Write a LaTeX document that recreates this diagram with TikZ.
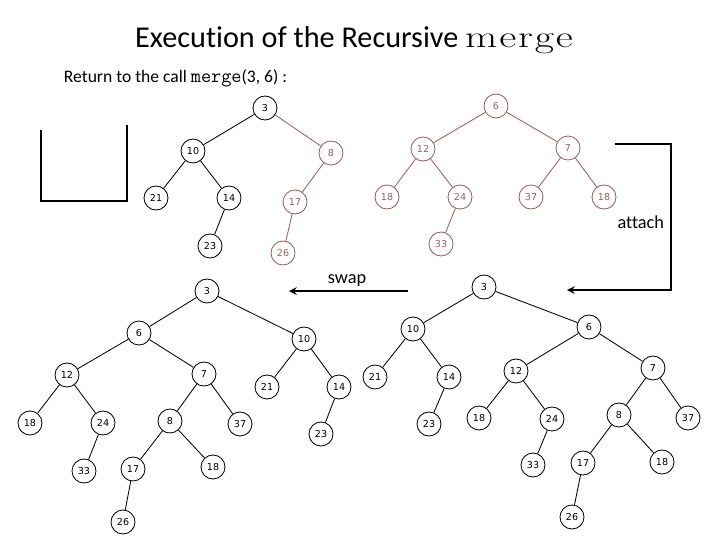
\documentclass[tikz,border=0pt]{standalone}
\usepackage{fontspec}
\newfontfamily\carl[Ligatures=NoCommon]{Carlito}
\newfontfamily\keyfont{DejaVu Sans}
\newfontfamily\widerm[FakeStretch=1.35, LetterSpace=6]{Latin Modern Roman}
\definecolor{redc}{RGB}{150,95,95}
\tikzset{
  nd/.style={draw, circle, minimum size=0.6cm, inner sep=0pt, line width=0.6pt,
    font=\keyfont\fontsize{6.8}{7}\selectfont},
  rd/.style={nd, draw=redc, text=redc},
  ed/.style={line width=0.6pt},
  red/.style={ed, draw=redc}
}
\begin{document}
\begin{tikzpicture}[>=stealth, x=0.025cm, y=-0.025cm]
\useasboundingbox (0,0) rectangle (720,540);
\node (title) at (354,40){\carl\fontsize{21.5}{26}\selectfont Execution of the Recursive {\widerm\fontsize{22}{26}\selectfont merge}};
\node[anchor=west] (sub) at (59,78){\carl\fontsize{12.5}{14}\selectfont Return to the call {\fontsize{14}{14}\selectfont\texttt{merge}}(3, 6) :};
% stack
\draw[line width=1.4pt] (41,130) -- (41,201) -- (127,201) -- (127,125);
% top left tree
\node[nd](a3) at (265,108){3};
\node[nd](a10) at (193,151){10};
\node[rd](a8) at (331,153){8};
\node[nd](a21) at (156,198){21};
\node[nd](a14) at (229,198){14};
\node[rd](a17) at (295,202){17};
\node[nd](a23) at (210,246){23};
\node[rd](a26) at (283,253){26};
\draw[ed](a3)--(a10);
\draw[red](a3)--(a8);
\draw[ed](a10)--(a21);
\draw[ed](a10)--(a14);
\draw[ed](a14)--(a23);
\draw[red](a8)--(a17);
\draw[red](a17)--(a26);
% top right tree
\node[rd](b6) at (496,106){6};
\node[rd](b12) at (423,149){12};
\node[rd](b7) at (568,148){7};
\node[rd](b18) at (387,197){18};
\node[rd](b24) at (460,197){24};
\node[rd](b37) at (531,197){37};
\node[rd](b18r) at (604,197){18};
\node[rd](b33) at (441,244){33};
\draw[red](b6)--(b12);
\draw[red](b6)--(b7);
\draw[red](b12)--(b18);
\draw[red](b12)--(b24);
\draw[red](b24)--(b33);
\draw[red](b7)--(b37);
\draw[red](b7)--(b18r);
% attach and swap
\coordinate (at1) at (615,144);
\coordinate (at2) at (567,290);
\draw[->, line width=1.4pt](at1) -| (671,290) -- (at2);
\node[anchor=east, font=\carl\fontsize{13}{15}\selectfont](attach) at (669,222){attach};
\coordinate (sw1) at (408,291);
\coordinate (sw2) at (289,291);
\draw[->, line width=1.4pt](sw1)--(sw2);
\node[font=\carl\fontsize{13}{15}\selectfont](swap) at (347,281){swap};
% bottom left tree
\node[nd](c3) at (207,291){3};
\node[nd](c6) at (139,333){6};
\node[nd](c10) at (304,339){10};
\node[nd](c12) at (67,375){12};
\node[nd](c7) at (204,374){7};
\node[nd](c21) at (267,387){21};
\node[nd](c14) at (339,387){14};
\node[nd](c18) at (30,423){18};
\node[nd](c24) at (103,423){24};
\node[nd](c8) at (170,421){8};
\node[nd](c37) at (240,424){37};
\node[nd](c23) at (321,434){23};
\node[nd](c33) at (84,471){33};
\node[nd](c17) at (133,469){17};
\node[nd](c18r) at (213,467){18};
\node[nd](c26) at (123,522){26};
\draw[ed](c3)--(c6);
\draw[ed](c3)--(c10);
\draw[ed](c6)--(c12);
\draw[ed](c6)--(c7);
\draw[ed](c12)--(c18);
\draw[ed](c12)--(c24);
\draw[ed](c24)--(c33);
\draw[ed](c7)--(c8);
\draw[ed](c7)--(c37);
\draw[ed](c8)--(c17);
\draw[ed](c8)--(c18r);
\draw[ed](c17)--(c26);
\draw[ed](c10)--(c21);
\draw[ed](c10)--(c14);
\draw[ed](c14)--(c23);
% bottom right tree
\node[nd](d3) at (484,287){3};
\node[nd](d10) at (413,329){10};
\node[nd](d6) at (589,327){6};
\node[nd](d21) at (375,377){21};
\node[nd](d14) at (449,377){14};
\node[nd](d12) at (516,371){12};
\node[nd](d7) at (653,368){7};
\node[nd](d23) at (429,424){23};
\node[nd](d18) at (479,418){18};
\node[nd](d24) at (552,419){24};
\node[nd](d8) at (619,415){8};
\node[nd](d37) at (688,418){37};
\node[nd](d33) at (533,465){33};
\node[nd](d17) at (583,463){17};
\node[nd](d18r) at (662,462){18};
\node[nd](d26) at (572,517){26};
\draw[ed](d3)--(d10);
\draw[ed](d3)--(d6);
\draw[ed](d10)--(d21);
\draw[ed](d10)--(d14);
\draw[ed](d14)--(d23);
\draw[ed](d6)--(d12);
\draw[ed](d6)--(d7);
\draw[ed](d12)--(d18);
\draw[ed](d12)--(d24);
\draw[ed](d24)--(d33);
\draw[ed](d7)--(d8);
\draw[ed](d7)--(d37);
\draw[ed](d8)--(d17);
\draw[ed](d8)--(d18r);
\draw[ed](d17)--(d26);
\end{tikzpicture}
\end{document}
